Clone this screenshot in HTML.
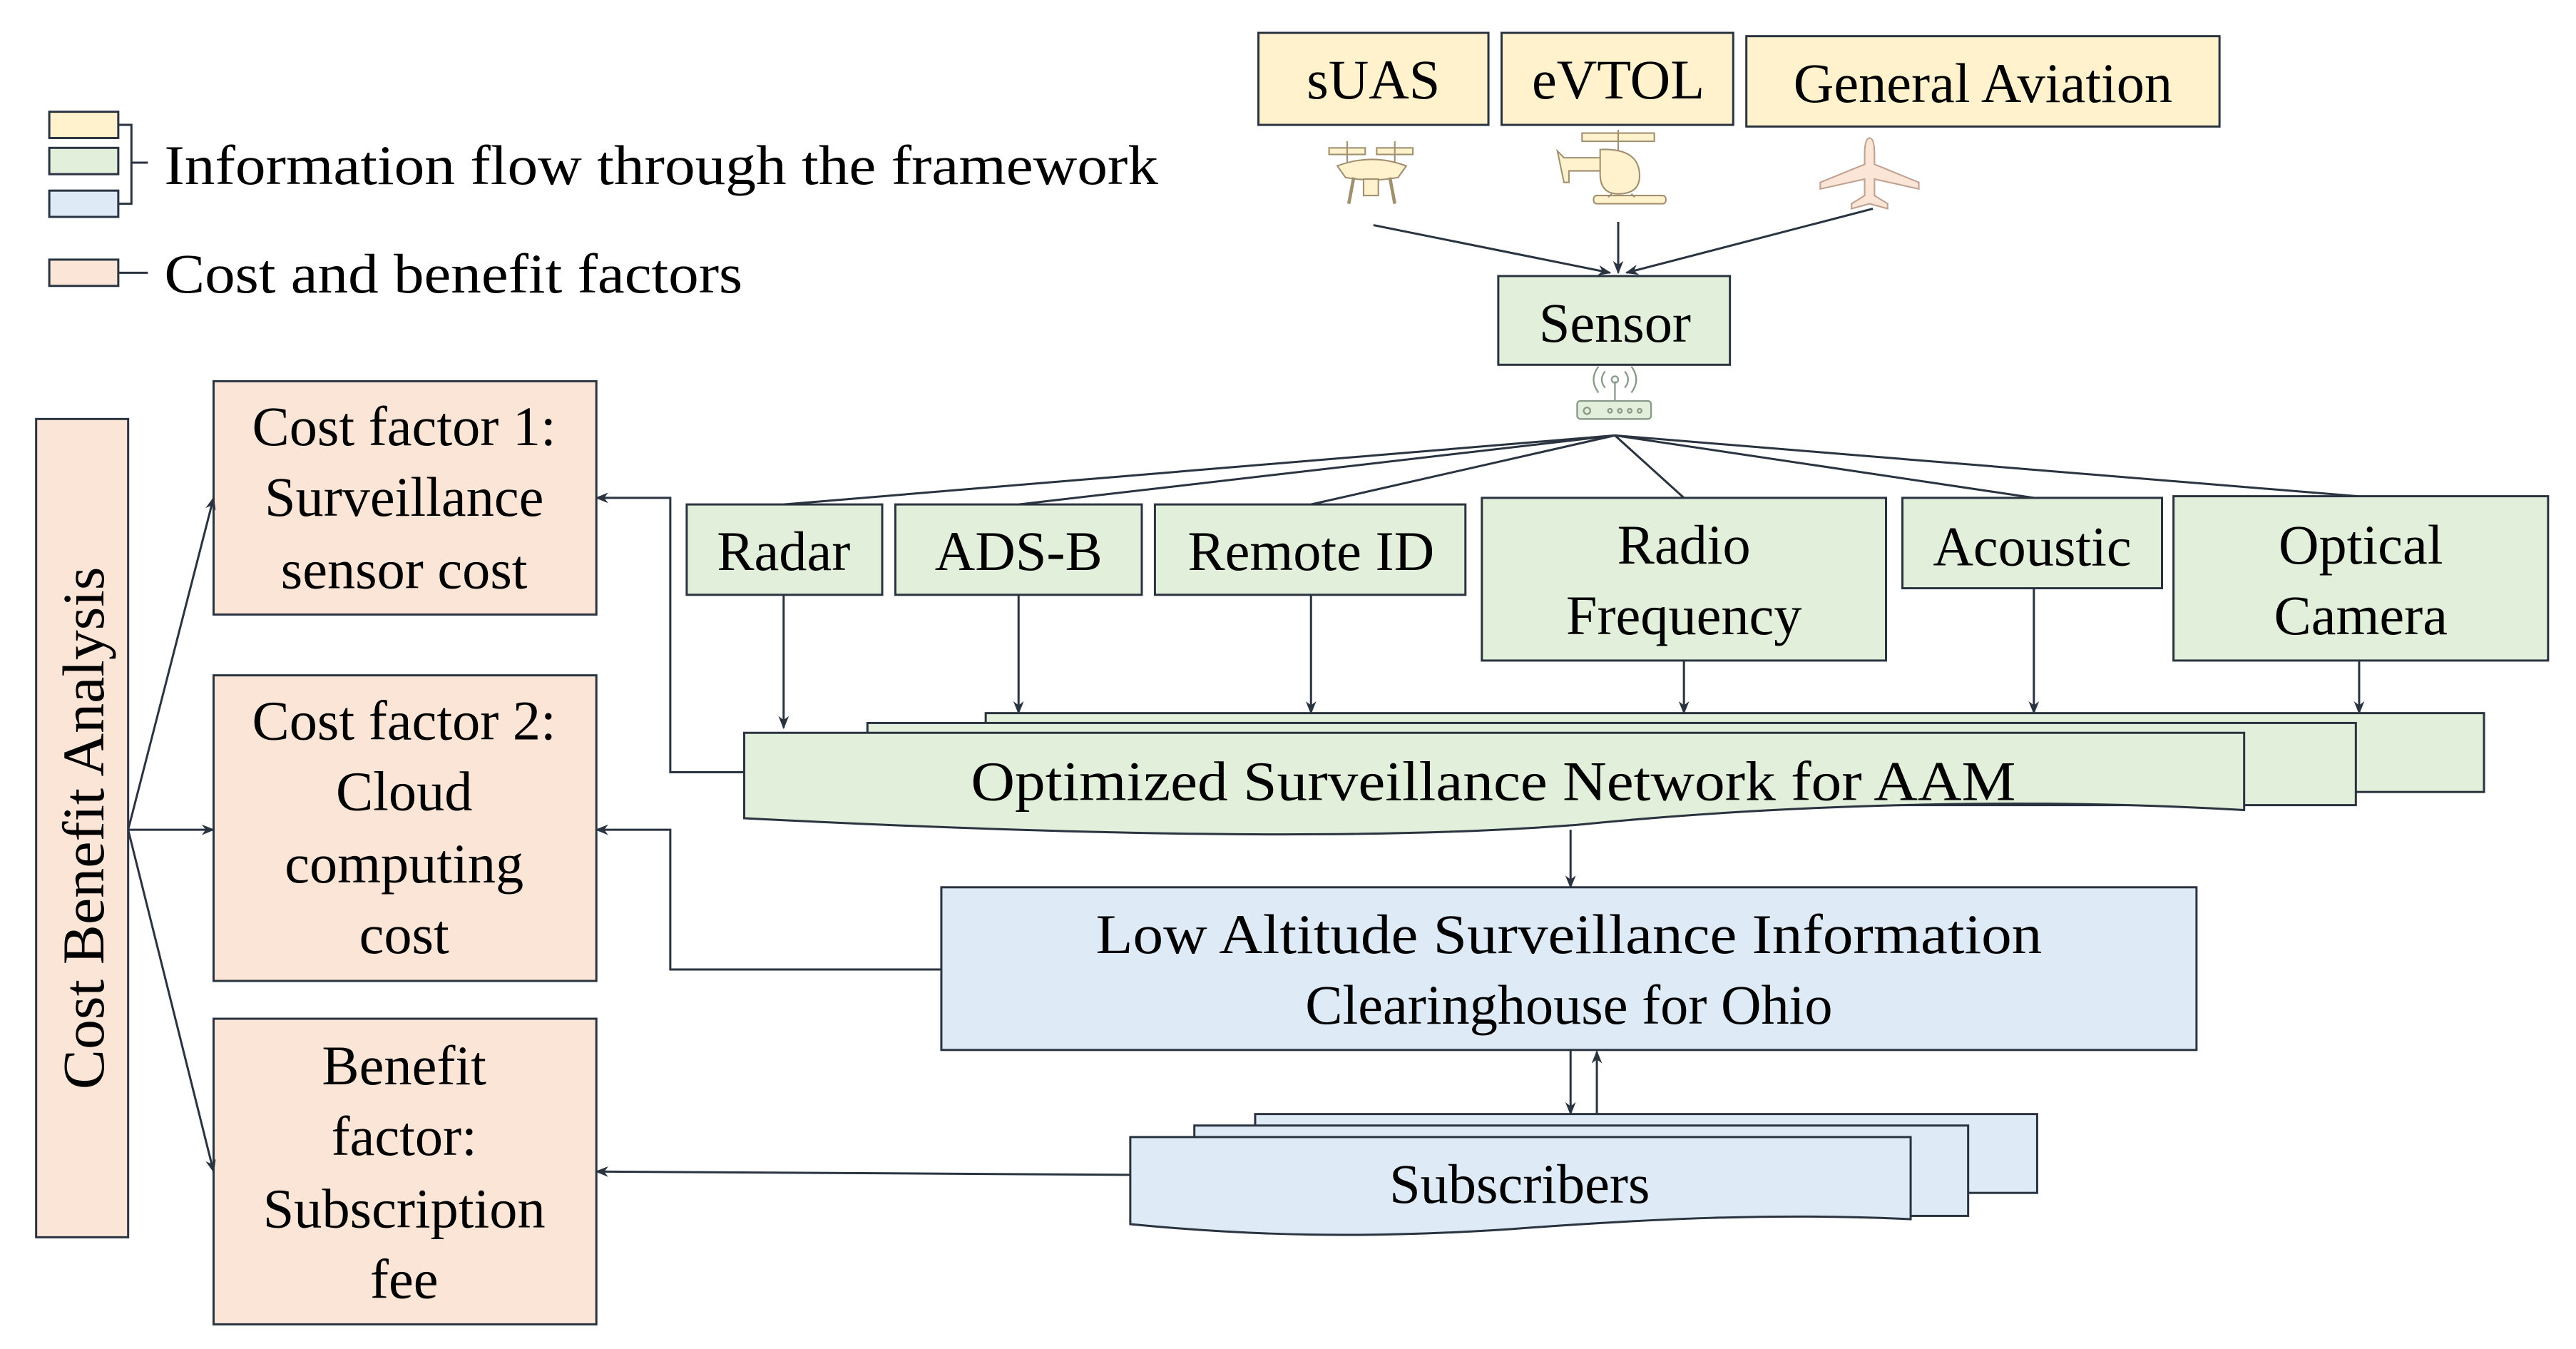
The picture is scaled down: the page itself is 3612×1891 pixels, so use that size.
<!DOCTYPE html>
<html><head><meta charset="utf-8"><style>
html,body{margin:0;padding:0;background:#fff;}
svg{display:block;}
svg text{font-family:"Liberation Serif","Times New Roman",Times,serif;fill:#000;}
</style></head><body>
<svg width="3612" height="1891" viewBox="0 0 1568 821" preserveAspectRatio="none" xmlns="http://www.w3.org/2000/svg" font-family="Liberation Serif, Times New Roman, serif">
<defs>
<marker id="a" viewBox="0 0 10 10" refX="9" refY="5" markerWidth="8" markerHeight="8" orient="auto-start-reverse" markerUnits="userSpaceOnUse">
<path d="M0,1 L10,5 L0,9 L3,5 Z" fill="#2a3340"/></marker>
</defs>
<g stroke="#2a3340" stroke-width="1.3">
<rect x="30" y="68" width="42" height="16" fill="#fff2cc"/>
<rect x="30" y="90" width="42" height="16" fill="#e2efda"/>
<rect x="30" y="116" width="42" height="16" fill="#deebf7"/>
<polyline points="72,76 80,76 80,124 72,124" fill="none"/>
<line x1="80" y1="99" x2="90" y2="99"/>
<rect x="30" y="158" width="42" height="16" fill="#fbe5d6"/>
<line x1="72" y1="166" x2="90" y2="166"/>

<rect x="22" y="255" width="56" height="498" fill="#fbe5d6"/>
<rect x="130" y="232" width="233" height="142" fill="#fbe5d6"/>
<rect x="130" y="411" width="233" height="186" fill="#fbe5d6"/>
<rect x="130" y="620" width="233" height="186" fill="#fbe5d6"/>
<line x1="78" y1="505" x2="130" y2="303" marker-end="url(#a)"/>
<line x1="78" y1="505" x2="130" y2="505" marker-end="url(#a)"/>
<line x1="78" y1="505" x2="130" y2="713" marker-end="url(#a)"/>

<rect x="766" y="20" width="140" height="56" fill="#fff2cc"/>
<rect x="914" y="20" width="141" height="56" fill="#fff2cc"/>
<rect x="1063" y="22" width="288" height="55" fill="#fff2cc"/>
<line x1="836" y1="137" x2="980" y2="166" marker-end="url(#a)"/>
<line x1="985" y1="135" x2="985" y2="166" marker-end="url(#a)"/>
<line x1="1140" y1="127" x2="990" y2="166" marker-end="url(#a)"/>
<rect x="912" y="168" width="141" height="54" fill="#e2efda"/>

<g fill="none">
<line x1="983" y1="265" x2="477" y2="307"/>
<line x1="983" y1="265" x2="620" y2="307"/>
<line x1="983" y1="265" x2="798" y2="307"/>
<line x1="983" y1="265" x2="1025" y2="303"/>
<line x1="983" y1="265" x2="1238" y2="303"/>
<line x1="983" y1="265" x2="1435" y2="302"/>
</g>
<rect x="418" y="307" width="119" height="55" fill="#e2efda"/>
<rect x="545" y="307" width="150" height="55" fill="#e2efda"/>
<rect x="703" y="307" width="189" height="55" fill="#e2efda"/>
<rect x="902" y="303" width="246" height="99" fill="#e2efda"/>
<rect x="1158" y="303" width="158" height="55" fill="#e2efda"/>
<rect x="1323" y="302" width="228" height="100" fill="#e2efda"/>
<line x1="477" y1="362" x2="477" y2="443" marker-end="url(#a)"/>
<line x1="620" y1="362" x2="620" y2="434" marker-end="url(#a)"/>
<line x1="798" y1="362" x2="798" y2="434" marker-end="url(#a)"/>
<line x1="1025" y1="402" x2="1025" y2="434" marker-end="url(#a)"/>
<line x1="1238" y1="358" x2="1238" y2="434" marker-end="url(#a)"/>
<line x1="1436" y1="402" x2="1436" y2="434" marker-end="url(#a)"/>

<rect x="600" y="434" width="912" height="48" fill="#e2efda"/>
<rect x="528" y="440" width="906" height="50" fill="#e2efda"/>
<path d="M453,446 H1366 V493 C1230,485 1080,490 960,502 C830,512 650,508 453,498 Z" fill="#e2efda"/>
<polyline points="453,470 408,470 408,303 363,303" fill="none" marker-end="url(#a)"/>
<line x1="956" y1="505" x2="956" y2="540" marker-end="url(#a)"/>

<rect x="573" y="540" width="764" height="99" fill="#deebf7"/>
<polyline points="573,590 408,590 408,505 363,505" fill="none" marker-end="url(#a)"/>
<line x1="956" y1="639" x2="956" y2="678" marker-end="url(#a)"/>
<line x1="972" y1="678" x2="972" y2="640" marker-end="url(#a)"/>

<rect x="764" y="678" width="476" height="48" fill="#deebf7"/>
<rect x="727" y="685" width="471" height="55" fill="#deebf7"/>
<path d="M688,692 H1163 V742 C1080,738 1000,742 920,748 C830,754 760,752 688,745 Z" fill="#deebf7"/>
<line x1="688" y1="715" x2="363" y2="713" marker-end="url(#a)"/>
</g>

<g fill="#fff2cc" stroke="#a09070" stroke-width="0.9">
<rect x="809" y="90" width="22" height="4"/><rect x="838" y="90" width="22" height="4"/>
<line x1="820" y1="86" x2="820" y2="99"/><line x1="849" y1="86" x2="849" y2="99"/>
<path d="M814,101 Q835,93 856,101 L851,108 Q835,111 819,108 Z"/>
<path d="M824,108 L821,124 M846,108 L849,124" fill="none" stroke-width="2"/>
<rect x="830" y="109" width="9" height="10"/>
<rect x="963" y="81" width="44" height="5"/>
<line x1="985" y1="79" x2="985" y2="92"/>
<path d="M948,92 L952,96 H978 V104 H955 V111 H952 Z"/>
<path d="M974,91 Q998,90 998,107 Q998,118 985,118 Q974,118 974,106 Z"/>
<rect x="970" y="119" width="44" height="5" rx="2"/>
<line x1="981" y1="118" x2="979" y2="120"/><line x1="993" y1="118" x2="995" y2="120"/>
</g>
<path d="M1138,84 Q1141,84 1141,94 V100 L1168,111 V115 L1141,109 V119 L1149,124 V127 L1138,124 L1127,127 V124 L1135,119 V109 L1108,115 V111 L1135,100 V94 Q1135,84 1138,84 Z" fill="#fbe5d6" stroke="#c0a090" stroke-width="0.9"/>
<g fill="none" stroke="#8a9a88" stroke-width="1">
<rect x="960" y="244" width="45" height="11" rx="2" fill="#e2efda"/>
<line x1="983" y1="232" x2="983" y2="244"/>
<circle cx="983" cy="231" r="2"/>
<path d="M977,236 Q973,231 977,226 M973,239 Q967,231 973,223 M989,236 Q993,231 989,226 M993,239 Q999,231 993,223"/>
<circle cx="966" cy="250" r="2"/><circle cx="980" cy="250" r="1.2"/><circle cx="986" cy="250" r="1.2"/><circle cx="992" cy="250" r="1.2"/><circle cx="998" cy="250" r="1.2"/>
</g>

<g font-size="34">
<text x="100" y="112" textLength="605" lengthAdjust="spacingAndGlyphs">Information flow through the framework</text>
<text x="100" y="178" textLength="352" lengthAdjust="spacingAndGlyphs">Cost and benefit factors</text>
</g>
<text transform="translate(63,504) rotate(-90)" font-size="36" text-anchor="middle" textLength="318" lengthAdjust="spacingAndGlyphs">Cost Benefit Analysis</text>
<g font-size="34" text-anchor="middle">
<text x="246" y="271">Cost factor 1:</text>
<text x="246" y="314">Surveillance</text>
<text x="246" y="358">sensor cost</text>
<text x="246" y="450">Cost factor 2:</text>
<text x="246" y="493">Cloud</text>
<text x="246" y="537">computing</text>
<text x="246" y="580">cost</text>
<text x="246" y="660">Benefit</text>
<text x="246" y="703">factor:</text>
<text x="246" y="747">Subscription</text>
<text x="246" y="790">fee</text>
<text x="836" y="60">sUAS</text>
<text x="985" y="60">eVTOL</text>
<text x="1207" y="62">General Aviation</text>
<text x="983" y="208">Sensor</text>
<text x="477" y="347">Radar</text>
<text x="620" y="347">ADS-B</text>
<text x="798" y="347">Remote ID</text>
<text x="1025" y="343">Radio</text>
<text x="1025" y="386">Frequency</text>
<text x="1237" y="344">Acoustic</text>
<text x="1437" y="343">Optical</text>
<text x="1437" y="386">Camera</text>
<text x="909" y="487" textLength="636" lengthAdjust="spacingAndGlyphs">Optimized Surveillance Network for AAM</text>
<text x="955" y="580" textLength="576" lengthAdjust="spacingAndGlyphs">Low Altitude Surveillance Information</text>
<text x="955" y="623">Clearinghouse for Ohio</text>
<text x="925" y="732">Subscribers</text>
</g>
</svg>
</body></html>
